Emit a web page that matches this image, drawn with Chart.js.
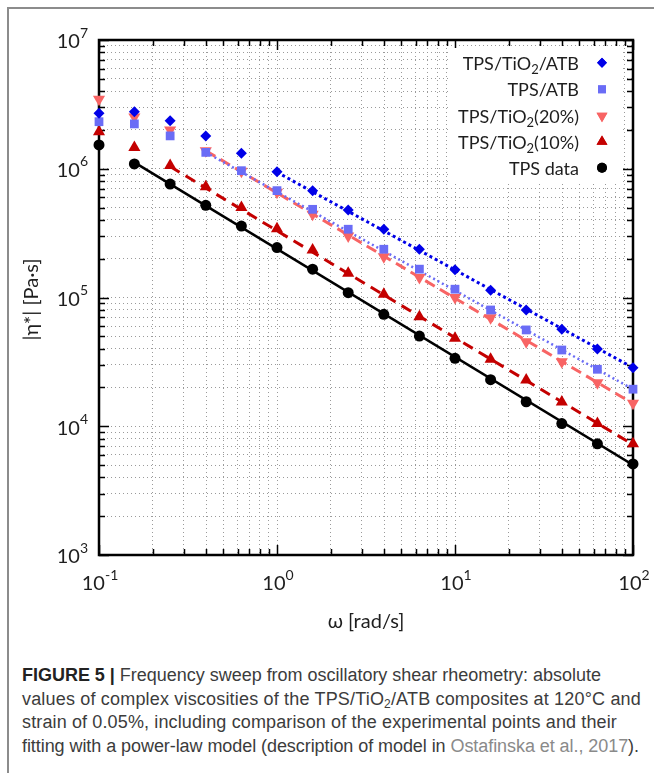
<!DOCTYPE html>
<html>
<head>
<meta charset="utf-8">
<script src="https://cdn.jsdelivr.net/npm/chart.js@4"></script>
<style>
  html, body { margin: 0; padding: 0; background: #fff; width: 654px; height: 773px; overflow: hidden; }
  #frame { position: absolute; left: 7px; top: 7px; width: 720px; height: 820px; border: 2px solid #8c8c8c; box-sizing: border-box; }
  #wrap { position: absolute; left: 0; top: 0; width: 654px; height: 640px; }
  #caption { position: absolute; left: 22px; top: 664px; font-family: "Liberation Sans", Arial, sans-serif; font-size: 18px; line-height: 23.5px; color: #3c3c3c; white-space: nowrap; }
  #caption div { width: max-content; }
  #caption b { color: #222; }
  #caption sub { font-size: 12px; line-height: 0; vertical-align: -3px; }
  #caption .ref { color: #8a8a8a; }
</style>
</head>
<body>
<div id="frame"></div>
<div id="wrap"><canvas id="myChart" width="654" height="640"></canvas></div>
<div id="caption">
  <div data-w="579"><b>FIGURE 5 |</b> Frequency sweep from oscillatory shear rheometry: absolute</div>
  <div data-w="619">values of complex viscosities of the TPS/TiO<sub>2</sub>/ATB composites at 120°C and</div>
  <div data-w="595">strain of 0.05%, including comparison of the experimental points and their</div>
  <div data-w="617">fitting with a power-law model (description of model in <span class="ref">Ostafinska et al., 2017</span>).</div>
</div>
<script>
// frequency points [rad/s]
const omega = [0.1, 0.158, 0.251, 0.398, 0.631, 1, 1.585, 2.512, 3.981, 6.31, 10, 15.85, 25.12, 39.81, 63.1, 100];

// |eta*| [Pa.s]
const etaTiO2ATB = [2.70e6, 2.77e6, 2.36e6, 1.80e6, 1.32e6, 9.48e5, 6.76e5, 4.79e5, 3.39e5, 2.37e5, 1.64e5, 1.14e5, 8.0e4, 5.66e4, 3.98e4, 2.85e4];
const etaATB = [2.32e6, 2.23e6, 1.80e6, 1.34e6, 9.66e5, 6.76e5, 4.84e5, 3.39e5, 2.37e5, 1.66e5, 1.16e5, 8.0e4, 5.6e4, 3.91e4, 2.77e4, 1.94e4];
const etaTiO2_20 = [3.46e6, 2.52e6, 2.0e6, 1.38e6, 9.55e5, 6.56e5, 4.43e5, 3.0e5, 2.07e5, 1.43e5, 1.0e5, 6.97e4, 4.54e4, 3.17e4, 2.18e4, 1.51e4];
const etaTiO2_10 = [1.94e6, 1.46e6, 1.06e6, 7.26e5, 4.99e5, 3.42e5, 2.34e5, 1.54e5, 1.06e5, 7.1e4, 4.82e4, 3.31e4, 2.29e4, 1.54e4, 1.05e4, 7.3e3];
const etaTPS = [1.53e6, 1.09e6, 7.6e5, 5.2e5, 3.59e5, 2.44e5, 1.66e5, 1.09e5, 7.4e4, 5.02e4, 3.37e4, 2.30e4, 1.55e4, 1.05e4, 7.3e3, 5.1e3];

// power-law fit lines: end points
const fitTiO2ATBx = [1, 100];
const fitTiO2ATBy = [9.4e5, 2.85e4];
const fitATBx = [0.398, 100];
const fitATBy = [1.34e6, 1.94e4];
const fitTiO2_20x = [0.398, 100];
const fitTiO2_20y = [1.38e6, 1.5e4];
const fitTiO2_10x = [0.251, 100];
const fitTiO2_10y = [1.04e6, 7.2e3];
const fitTPSx = [0.158, 100];
const fitTPSy = [1.12e6, 5.0e3];

// axis tick labels (exponents of 10)
const xTickExps = [-1, 0, 1, 2];
const yTickExps = [3, 4, 5, 6, 7];

const FONT = "Lato, 'Open Sans', sans-serif";
const TXT = "#1e1e1e";

const pts = (xs, ys) => xs.map((x, i) => ({ x: x, y: ys[i] }));

// grid at 1..9 x 10^n
const gridValues = (exps) => {
  let out = [];
  for (let i = 0; i < exps.length - 1; i++) {
    for (let k = 1; k < 10; k++) out.push(k * Math.pow(10, exps[i]));
  }
  out.push(Math.pow(10, exps[exps.length - 1]));
  return out;
};

const markerSets = [
  { label: "TPS/TiO₂/ATB", data: pts(omega, etaTiO2ATB), color: "#0000e8", style: "rectRot", r: 5.5, rot: 0, order: 0 },
  { label: "TPS/ATB", data: pts(omega, etaATB), color: "#6a6cf6", style: "rect", r: 6.2, rot: 0, order: 1 },
  { label: "TPS/TiO₂(20%)", data: pts(omega, etaTiO2_20), color: "#f86464", style: "triangle", r: 7, rot: 180, order: 4 },
  { label: "TPS/TiO₂(10%)", data: pts(omega, etaTiO2_10), color: "#c40000", style: "triangle", r: 7, rot: 0, order: 3 },
  { label: "TPS data", data: pts(omega, etaTPS), color: "#000000", style: "circle", r: 5.5, rot: 0, order: 2 },
];

const fitSets = [
  { data: pts(fitTiO2ATBx, fitTiO2ATBy), color: "#0000e8", width: 3, dash: [3, 3] },
  { data: pts(fitATBx, fitATBy), color: "#6a6cf6", width: 2.5, dash: [2, 3] },
  { data: pts(fitTiO2_20x, fitTiO2_20y), color: "#f86464", width: 3, dash: [11, 6] },
  { data: pts(fitTiO2_10x, fitTiO2_10y), color: "#c40000", width: 3, dash: [11, 7] },
  { data: pts(fitTPSx, fitTPSy), color: "#000000", width: 2.5, dash: [] },
];

const datasets = markerSets.map((m) => ({
  label: m.label,
  data: m.data,
  showLine: false,
  pointStyle: m.style,
  pointRadius: m.r,
  pointRotation: m.rot,
  backgroundColor: m.color,
  borderColor: m.color,
  borderWidth: 0,
  order: m.order,
  clip: false,
})).concat(fitSets.map((f) => ({
  label: "",
  data: f.data,
  showLine: true,
  pointRadius: 0,
  borderColor: f.color,
  borderWidth: f.width,
  borderDash: f.dash,
  order: 10,
  fill: false,
})));

// text with sub/superscripts: parts = [[text, kind]], kind 1 = sup, -1 = sub
function drawRich(ctx, parts, x, y, align, size) {
  const small = Math.round(size * 0.72);
  const fontOf = (k) => (k ? small : size) + "px " + FONT;
  let w = 0;
  parts.forEach(([t, k]) => { ctx.font = fontOf(k); w += ctx.measureText(t).width; });
  let cx = align === "right" ? x - w : align === "center" ? x - w / 2 : x;
  ctx.textAlign = "left";
  ctx.textBaseline = "middle";
  parts.forEach(([t, k]) => {
    ctx.font = fontOf(k);
    const dy = k === 1 ? -size * 0.45 : k === -1 ? size * 0.33 : 0;
    ctx.fillText(t, cx, y + dy);
    cx += ctx.measureText(t).width;
  });
}

const frameAndTicks = {
  id: "frameAndTicks",
  beforeDatasetsDraw(chart) {
    const { ctx, chartArea: a, scales } = chart;
    ctx.save();
    ctx.strokeStyle = "#000";
    ctx.lineWidth = 1.5;
    gridValues(xTickExps).forEach((v) => {
      const px = Math.round(scales.x.getPixelForValue(v)) + 0.5;
      const len = Math.abs(Math.log10(v) - Math.round(Math.log10(v))) < 1e-6 ? 10 : 6;
      ctx.beginPath();
      ctx.moveTo(px, a.bottom); ctx.lineTo(px, a.bottom - len);
      ctx.moveTo(px, a.top); ctx.lineTo(px, a.top + len);
      ctx.stroke();
    });
    gridValues(yTickExps).forEach((v) => {
      const py = Math.round(scales.y.getPixelForValue(v)) + 0.5;
      const len = Math.abs(Math.log10(v) - Math.round(Math.log10(v))) < 1e-6 ? 10 : 6;
      ctx.beginPath();
      ctx.moveTo(a.left, py); ctx.lineTo(a.left + len, py);
      ctx.moveTo(a.right, py); ctx.lineTo(a.right - len, py);
      ctx.stroke();
    });
    ctx.lineWidth = 2.5;
    ctx.strokeRect(a.left, a.top, a.right - a.left, a.bottom - a.top);

    // tick labels
    ctx.fillStyle = TXT;
    xTickExps.forEach((e) => {
      const px = scales.x.getPixelForValue(Math.pow(10, e));
      drawRich(ctx, [["10", 0], [String(e), 1]], px + 1, a.bottom + 29, "center", 20);
    });
    yTickExps.forEach((e) => {
      const py = scales.y.getPixelForValue(Math.pow(10, e));
      drawRich(ctx, [["10", 0], [String(e), 1]], a.left - 11, py + 2, "right", 20);
    });

    // axis titles
    ctx.font = "20px " + FONT;
    ctx.textAlign = "center";
    ctx.textBaseline = "middle";
    ctx.fillText("ω [rad/s]", (a.left + a.right) / 2, a.bottom + 67);
    ctx.save();
    ctx.translate(32, (a.top + a.bottom) / 2 + 2);
    ctx.rotate(-Math.PI / 2);
    ctx.fillText("|η*| [Pa·s]", 0, 0);
    ctx.restore();
    ctx.restore();
  },
  afterDatasetsDraw(chart) {
    const { ctx } = chart;
    ctx.save();
    ctx.fillStyle = "#fff";
    ctx.fillRect(448, 48, 174, 134);
    const rows = [62.7, 89.3, 116, 141.7, 167.7];
    markerSets.forEach((m, i) => {
      ctx.fillStyle = TXT;
      const parts = [];
      m.label.split("₂").forEach((s, j) => {
        if (j > 0) parts.push(["2", -1]);
        if (s) parts.push([s, 0]);
      });
      drawRich(ctx, parts, 579, rows[i] + 1, "right", 18);
      ctx.fillStyle = m.color;
      ctx.strokeStyle = m.color;
      Chart.helpers.drawPoint(ctx, { pointStyle: m.style, radius: m.r * 0.9, rotation: m.rot, borderWidth: 0 }, 602, rows[i]);
      ctx.fill();
    });
    ctx.restore();
  },
};

const axisCommon = {
  type: "logarithmic",
  ticks: { display: false },
  title: { display: false },
  grid: { color: "#9a9a9a", lineWidth: 1, drawTicks: false, borderDash: [1, 3] },
  border: { display: false, dash: [1, 3] },
};

const config = {
  type: "scatter",
  data: { datasets: datasets },
  options: {
    responsive: false,
    animation: false,
    layout: { padding: { left: 99, right: 21, top: 40, bottom: 85 } },
    scales: {
      x: Object.assign({}, axisCommon, {
        min: 0.1, max: 100, position: "bottom",
        afterBuildTicks: (s) => { s.ticks = gridValues(xTickExps).map((v) => ({ value: v })); },
        afterFit: (s) => { s.height = 0; },
      }),
      y: Object.assign({}, axisCommon, {
        min: 1e3, max: 1e7, position: "left",
        afterBuildTicks: (s) => { s.ticks = gridValues(yTickExps).map((v) => ({ value: v })); },
        afterFit: (s) => { s.width = 0; },
      }),
    },
    plugins: {
      legend: { display: false },
      tooltip: { enabled: false },
    },
  },
  plugins: [frameAndTicks],
};

const myChart = new Chart(document.getElementById("myChart"), config);

// fit each caption line to the width it has in the figure
document.querySelectorAll("#caption div").forEach((d) => {
  const target = +d.dataset.w;
  const w = d.getBoundingClientRect().width;
  const n = d.textContent.length;
  d.style.letterSpacing = ((target - w) / n).toFixed(3) + "px";
});
</script>
</body>
</html>
